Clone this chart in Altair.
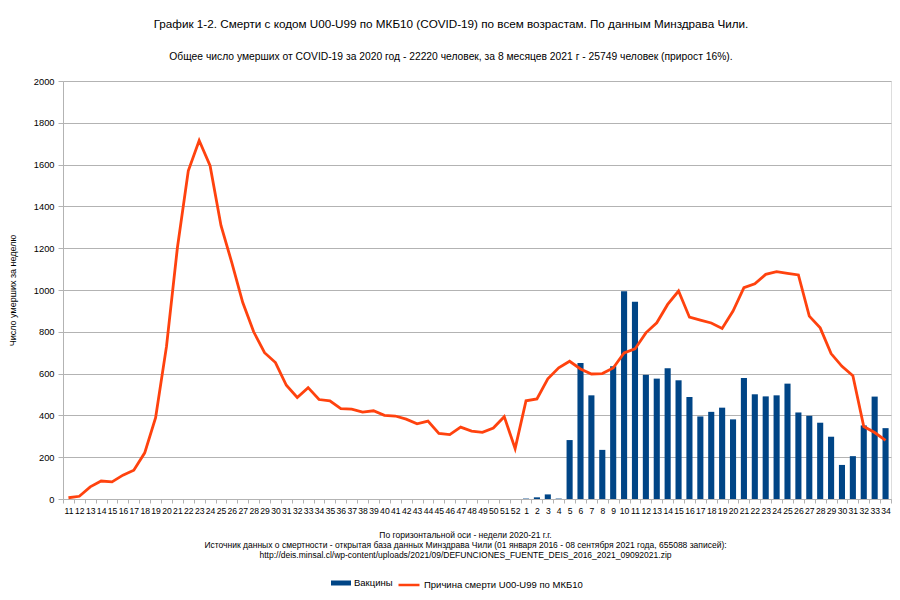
import altair as alt
import pandas as pd

# Week labels (2020: weeks 11-52, 2021: weeks 1-34)
weeks_2020 = [str(w) for w in range(11, 53)]
weeks_2021 = [str(w) for w in range(1, 35)]

# Weekly deaths, ICD-10 U00-U99 (COVID-19)
deaths_2020 = [6, 13, 58, 86, 82, 114, 138, 221, 389, 730,
               1202, 1570, 1715, 1595, 1309, 1130, 940, 800, 700, 653,
               544, 486, 533, 476, 470, 432, 430, 416, 422, 400,
               397, 382, 360, 373, 314, 308, 344, 325, 319, 340,
               394, 241]
deaths_2021 = [470, 479, 575, 628, 659, 622, 598, 600, 627, 699,
               718, 795, 843, 931, 995, 870, 856, 842, 816, 899,
               1011, 1030, 1075, 1088, 1080, 1072, 875, 819, 696, 635,
               590, 347, 318, 280]

# "Вакцины" bars (2021 only)
vaccine_2021 = [2, 8, 22, 2, 282, 651, 496, 235, 635, 994,
                944, 594, 576, 626, 568, 488, 395, 417, 437, 381,
                579, 501, 491, 496, 552, 414, 398, 365, 298, 163,
                205, 352, 490, 339]

series_bar = "Вакцины"
series_line = "Причина смерти U00-U99 по МКБ10"

title_main = "График 1-2. Смерти с кодом U00-U99 по МКБ10  (COVID-19) по всем возрастам. По данным Минздрава Чили."
title_sub = "Общее число умерших от COVID-19 за 2020 год - 22220 человек, за 8 месяцев 2021 г  - 25749 человек  (прирост 16%)."
x_title = [
    "По горизонтальной оси - недели 2020-21 г.г.",
    "Источник данных о смертности - открытая база данных Минздрава Чили (01 января 2016 - 08 сентября 2021 года, 655088 записей):",
    "http://deis.minsal.cl/wp-content/uploads/2021/09/DEFUNCIONES_FUENTE_DEIS_2016_2021_09092021.zip",
]
y_title = "Число умерших за неделю"

keys = [f"2020-{w}" for w in weeks_2020] + [f"2021-{w}" for w in weeks_2021]
df = pd.DataFrame({
    "key": keys,
    "deaths": deaths_2020 + deaths_2021,
    "vacc": [None] * len(weeks_2020) + vaccine_2021,
    "s1": series_bar,
    "s2": series_line,
})

FONT = "Liberation Sans"
GRID = "#b3b3b3"

x_enc = alt.X(
    "key:N", sort=keys,
    scale=alt.Scale(paddingInner=0, paddingOuter=0),
    axis=alt.Axis(
        title=x_title, labelExpr="split(datum.value, '-')[1]",
        tickBand="extent", labelAngle=0,
        labelOverlap=False, labelFontSize=8.6, labelColor="#000000",
        labelFont=FONT, labelPadding=3, tickSize=4, tickColor=GRID,
        domainColor=GRID, grid=False,
        titleFont=FONT, titleFontSize=8.5, titleFontWeight="normal",
        titleColor="#000000", titleLineHeight=10,
        titleX=402, titleY=31, titleBaseline="top", titleAlign="center",
    ),
)

y_axis = alt.Axis(
    title=y_title, values=list(range(0, 2001, 200)), format="d",
    grid=True, gridColor=GRID,
    domainColor=GRID, tickColor=GRID, tickSize=5, labelPadding=4,
    labelFont=FONT, labelFontSize=9.3, labelColor="#000000",
    titleFont=FONT, titleFontSize=9, titleFontWeight="normal",
    titleColor="#000000", titleX=-51, titleY=209, titleAlign="center",
    titleBaseline="middle",
)
y_scale = alt.Scale(domain=[0, 2000], nice=False)

bars = alt.Chart(df).mark_bar(width=alt.RelativeBandSize(0.56)).encode(
    x=x_enc,
    y=alt.Y("vacc:Q", scale=y_scale, axis=y_axis),
    fill=alt.Fill(
        "s1:N",
        scale=alt.Scale(domain=[series_bar], range=["#004586"]),
        legend=alt.Legend(
            title=None, orient="none", legendX=268, legendY=492,
            symbolType="M-1,-0.25H1V0.25H-1Z", symbolSize=400,
            symbolStrokeWidth=0, labelFont=FONT, labelFontSize=9.5,
            labelColor="#000000", labelOffset=3,
        ),
    ),
)

line = alt.Chart(df).mark_line(strokeWidth=2.8).encode(
    x=x_enc,
    y=alt.Y("deaths:Q", scale=y_scale, axis=y_axis),
    stroke=alt.Stroke(
        "s2:N",
        scale=alt.Scale(domain=[series_line], range=["#ff420e"]),
        legend=alt.Legend(
            title=None, orient="none", legendX=334, legendY=492,
            symbolType="stroke", symbolSize=441, symbolStrokeWidth=2.5,
            labelFont=FONT, labelFontSize=9.5, labelColor="#000000",
            labelOffset=3,
        ),
    ),
)

chart = alt.layer(bars, line).properties(
    width=828, height=418,
    autosize=alt.AutoSizeParams(type="none"),
    padding={"left": 55, "top": 73, "right": 1, "bottom": 93},
    title=alt.TitleParams(
        text=title_main, subtitle=title_sub, anchor="middle",
        font=FONT, fontSize=11.7, fontWeight="normal", color="#000000",
        subtitleFont=FONT, subtitleFontSize=10.3, subtitleColor="#000000",
        subtitlePadding=21, offset=15, dx=-26,
    ),
).configure_view(stroke=GRID).configure(background="white")

chart.save("out.html", embed_options={"renderer": "svg", "actions": False})
